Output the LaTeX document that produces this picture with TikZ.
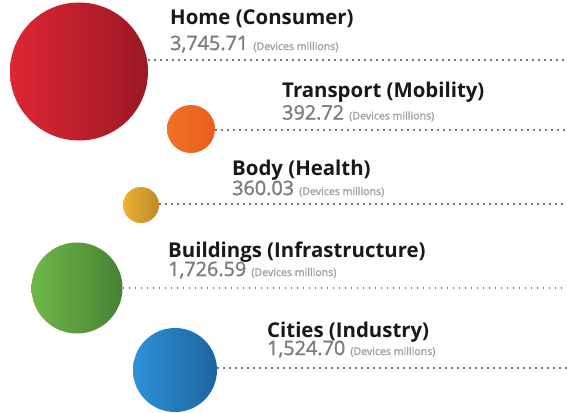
\documentclass[tikz,border=0pt]{standalone}
\usepackage{fontspec}
\setmainfont{Open Sans}
\newfontfamily\numfont{Open Sans}[FakeBold=1.5]
\definecolor{titlec}{RGB}{25,25,25}
\definecolor{numc}{RGB}{125,125,125}
\definecolor{unitc}{RGB}{160,160,160}
\definecolor{dotc}{RGB}{120,120,120}
\newcommand{\unitlbl}{{\fontsize{10.6}{12}\selectfont\color{unitc}(Devices millions)}}
\begin{document}
\begin{tikzpicture}[x=1pt,y=-1pt,
  bubble/.style={circle,inner sep=0pt,minimum size=#1},
  ttl/.style={anchor=base west,inner sep=0pt,font=\fontsize{20.4}{24}\selectfont\bfseries,text=titlec},
  num/.style={anchor=base west,inner sep=0pt,font=\fontsize{19.8}{22}\numfont,text=numc},
  dotline/.style={dotc,line width=1.5pt,dash pattern=on 1.3pt off 4.7pt}]
\useasboundingbox[fill=white] (0,0) rectangle (567,412);
% bubbles
\node[bubble=138pt,left color={rgb,255:red,222;green,38;blue,52},right color={rgb,255:red,155;green,24;blue,36}] (home) at (79,71.5) {};
\node[bubble=48pt,left color={rgb,255:red,240;green,112;blue,36},right color={rgb,255:red,232;green,96;blue,28}] (trans) at (191,129) {};
\node[bubble=36pt,left color={rgb,255:red,236;green,178;blue,50},right color={rgb,255:red,188;green,138;blue,40}] (body) at (141,205) {};
\node[bubble=91pt,left color={rgb,255:red,112;green,184;blue,72},right color={rgb,255:red,72;green,128;blue,52}] (build) at (77,288) {};
\node[bubble=84pt,left color={rgb,255:red,44;green,146;blue,214},right color={rgb,255:red,30;green,100;blue,158}] (city) at (175,370) {};
% end points of the dotted leaders
\coordinate (hE) at (567,60);
\coordinate (tE) at (567,130);
\coordinate (bE) at (567,204);
\coordinate (gE) at (567,288);
\coordinate (cE) at (567,368);
\draw[dotline] (home.east |- hE) -- (hE);
\draw[dotline] (trans.east |- tE) -- (tE);
\draw[dotline] (body.east |- bE) -- (bE);
\draw[dotline] (build.east |- gE) -- (gE);
\draw[dotline] (city.east |- cE) -- (cE);
% labels
\node[ttl] (t1) at (170,25) {Home (Consumer)};
\node[num] (n1) at (170,50) {3,745.71 \unitlbl};
\node[ttl] (t2) at (282,97) {Transport (Mobility)};
\node[num] (n2) at (282,119.5) {392.72 \unitlbl};
\node[ttl] (t3) at (232,175) {Body (Health)};
\node[num] (n3) at (232,195) {360.03 \unitlbl};
\node[ttl] (t4) at (168,257) {Buildings (Infrastructure)};
\node[num] (n4) at (168,276) {1,726.59 \unitlbl};
\node[ttl] (t5) at (267,337) {Cities (Industry)};
\node[num] (n5) at (267,355) {1,524.70 \unitlbl};
\end{tikzpicture}
\end{document}
